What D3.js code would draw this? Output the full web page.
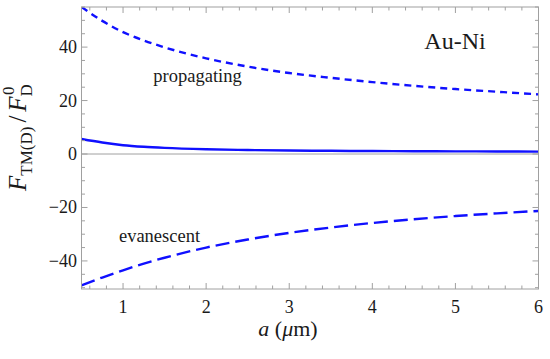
<!DOCTYPE html>
<html><head><meta charset="utf-8">
<script src="https://cdn.jsdelivr.net/npm/d3@7"></script>
<style>body{margin:0;background:#fff}svg{display:block}</style>
</head><body>
<svg id="c" width="550" height="359"></svg>
<script>
const aValues = [0.5, 0.75, 1, 1.25, 1.5, 2, 2.5, 3, 3.5, 4, 4.5, 5, 5.5, 6];
const propagating = [55, 49.8, 45.6, 42.5, 39.9, 35.8, 32.7, 30.3, 28.5, 26.9, 25.5, 24.3, 23.3, 22.3];
const evanescent = [-49.1, -46.2, -43.5, -41.0, -38.8, -35.0, -32.0, -29.5, -27.5, -25.8, -24.4, -23.2, -22.2, -21.3];
const total = [5.6, 4.3, 3.3, 2.7, 2.3, 1.8, 1.5, 1.3, 1.2, 1.1, 1.05, 1.0, 0.95, 0.9];
const xTicks = [1, 2, 3, 4, 5, 6];
const yTicks = [-40, -20, 0, 20, 40];

const FONT = "'Liberation Serif', 'Times New Roman', Times, 'DejaVu Serif', serif";
const svg = d3.select("#c").attr("font-family", FONT);
const L = 81.5, R = 538.5, T = 7, B = 289;
const x = d3.scaleLinear().domain([0.5, 6]).range([L, R]);
const y = d3.scaleLinear().domain([-50.5, 55]).range([B, T]);
const gray = "#a0a0a0";
const txt = "#1a1a1a";

const defs = svg.append("defs");
defs.append("clipPath").attr("id", "clip").append("rect")
  .attr("x", L).attr("y", T).attr("width", R - L).attr("height", B - T);

// zero line
svg.append("line").attr("x1", L).attr("x2", R).attr("y1", y(0)).attr("y2", y(0))
  .attr("stroke", gray).attr("stroke-width", 1);

// curves
const line = d3.line().x((d, i) => x(aValues[i])).y(d => y(d)).curve(d3.curveMonotoneX);
const g = svg.append("g").attr("clip-path", "url(#clip)");
g.append("path").datum(propagating).attr("d", line).attr("fill", "none")
  .attr("stroke", "#1010ff").attr("stroke-width", 2.4).attr("stroke-dasharray", "7,5");
g.append("path").datum(evanescent).attr("d", line).attr("fill", "none")
  .attr("stroke", "#1010ff").attr("stroke-width", 2.4).attr("stroke-dasharray", "14,6");
g.append("path").datum(total).attr("d", line).attr("fill", "none")
  .attr("stroke", "#1010ff").attr("stroke-width", 2.4);

// frame
svg.append("rect").attr("x", L).attr("y", T).attr("width", R - L).attr("height", B - T)
  .attr("fill", "none").attr("stroke", gray).attr("stroke-width", 1);

// ticks
const xMinor = d3.range(0.6, 6.0001, 0.2).filter(v => Math.abs(v - Math.round(v)) > 1e-6);
const yMinor = d3.range(-50, 55.001, 5).filter(v => v % 20 !== 0);
const tk = svg.append("g").attr("stroke", gray).attr("stroke-width", 1);
xTicks.forEach(v => {
  tk.append("line").attr("x1", x(v)).attr("x2", x(v)).attr("y1", B).attr("y2", B - 6);
  tk.append("line").attr("x1", x(v)).attr("x2", x(v)).attr("y1", T).attr("y2", T + 6);
});
xMinor.forEach(v => {
  tk.append("line").attr("x1", x(v)).attr("x2", x(v)).attr("y1", B).attr("y2", B - 3.5);
  tk.append("line").attr("x1", x(v)).attr("x2", x(v)).attr("y1", T).attr("y2", T + 3.5);
});
yTicks.forEach(v => {
  tk.append("line").attr("y1", y(v)).attr("y2", y(v)).attr("x1", L).attr("x2", L + 6);
  tk.append("line").attr("y1", y(v)).attr("y2", y(v)).attr("x1", R).attr("x2", R - 6);
});
yMinor.forEach(v => {
  tk.append("line").attr("y1", y(v)).attr("y2", y(v)).attr("x1", L).attr("x2", L + 3.5);
  tk.append("line").attr("y1", y(v)).attr("y2", y(v)).attr("x1", R).attr("x2", R - 3.5);
});

// tick labels
xTicks.forEach(v => {
  svg.append("text").attr("x", x(v)).attr("y", 313).attr("text-anchor", "middle")
    .attr("font-size", 18).attr("fill", txt).text(v);
});
yTicks.forEach(v => {
  svg.append("text").attr("x", 77).attr("y", y(v) + 6).attr("text-anchor", "end")
    .attr("font-size", 18).attr("fill", txt).text(v < 0 ? "\u2212" + Math.abs(v) : v);
});

// axis label x
const xl = svg.append("text").attr("x", 288).attr("y", 336).attr("text-anchor", "middle")
  .attr("font-size", 22).attr("fill", txt);
xl.append("tspan").attr("font-style", "italic").text("a");
xl.append("tspan").text(" (");
xl.append("tspan").attr("font-style", "italic").text("\u03bc");
xl.append("tspan").text("m)");

// axis label y
const yl = svg.append("text").attr("transform", "translate(26,191) rotate(-90)")
  .attr("font-size", 25).attr("fill", txt);
yl.append("tspan").attr("font-style", "italic").text("F");
yl.append("tspan").attr("font-size", 17).attr("dy", 6).text("TM(D)");
yl.append("tspan").attr("dy", -6).attr("dx", 4).text("/");
yl.append("tspan").attr("dx", 4).attr("font-style", "italic").text("F");
yl.append("tspan").attr("font-size", 17).attr("dy", 6).text("D");
yl.append("tspan").attr("font-size", 17).attr("dx", -11).attr("dy", -18).text("0");

// annotations
svg.append("text").attr("x", 455).attr("y", 49).attr("text-anchor", "middle")
  .attr("font-size", 24).attr("fill", txt).text("Au-Ni");
svg.append("text").attr("x", 197.5).attr("y", 81.5).attr("text-anchor", "middle")
  .attr("font-size", 18.5).attr("fill", txt).text("propagating");
svg.append("text").attr("x", 159.5).attr("y", 241.5).attr("text-anchor", "middle")
  .attr("font-size", 18.5).attr("fill", txt).text("evanescent");
</script>
</body></html>
